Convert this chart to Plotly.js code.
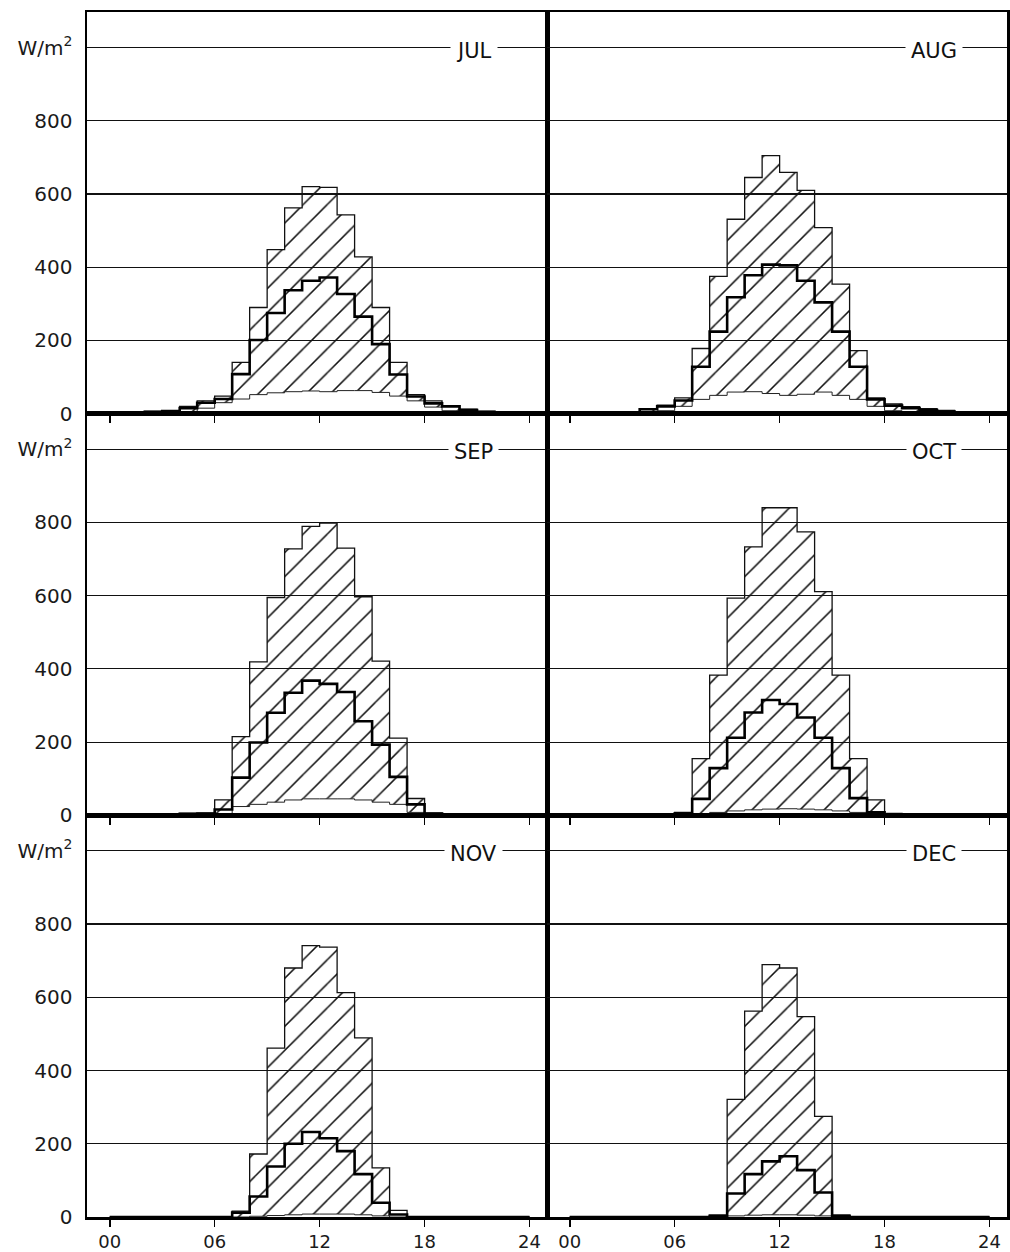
<!DOCTYPE html>
<html>
<head>
<meta charset="utf-8">
<script src="https://cdn.plot.ly/plotly-3.0.1.min.js"></script>
<style>
  html, body { margin: 0; padding: 0; background: #fff; }
  #chart { width: 1010px; height: 1252px; }
</style>
</head>
<body>
<div id="chart"></div>
<script>
// hourly bins (start hour of each 1-hour interval)
const hours = [0,1,2,3,4,5,6,7,8,9,10,11,12,13,14,15,16,17,18,19,20,21,22,23];
const months = ['JUL','AUG','SEP','OCT','NOV','DEC'];
const xTickVals = [0, 6, 12, 18, 24];
const xTickText = ['00', '06', '12', '18', '24'];
const yTickVals = [0, 200, 400, 600, 800, 1000];
const yTickText = ['0', '200', '400', '600', '800', 'W/m<sup>2</sup>'];

// W/m² : maximum, mean and minimum per hour
const julMax  = [0,0,6,8,20,35,48,140,290,448,562,620,618,543,428,290,140,52,35,22,12,6,0,0];
const julMean = [0,0,5,7,15,30,40,108,201,275,337,363,372,327,265,190,107,47,28,20,10,5,0,0];
const julMin  = [0,0,0,0,5,15,30,40,52,57,60,62,60,63,63,58,48,35,18,8,3,0,0,0];

const augMax  = [0,0,0,5,14,23,43,178,375,531,645,705,659,610,508,354,172,43,27,19,14,9,0,0];
const augMean = [0,0,0,4,12,20,36,128,224,318,378,407,405,363,304,224,128,39,22,15,10,6,0,0];
const augMin  = [0,0,0,0,3,8,20,39,50,59,60,55,50,53,59,50,39,20,8,3,0,0,0,0];

const sepMax  = [0,0,0,0,5,6,42,215,419,595,728,789,798,730,597,421,211,46,6,3,0,0,0,0];
const sepMean = [0,0,0,0,4,5,16,103,199,280,335,368,359,337,257,193,105,30,5,2,0,0,0,0];
const sepMin  = [0,0,0,0,0,0,5,24,30,36,42,45,45,45,42,36,30,8,0,0,0,0,0,0];

const octMax  = [0,0,0,0,0,0,8,155,383,593,733,840,840,774,611,383,155,42,5,2,0,0,0,0];
const octMean = [0,0,0,0,0,0,5,45,129,212,281,315,304,267,212,129,47,8,3,0,0,0,0,0];
const octMin  = [0,0,0,0,0,0,0,3,8,12,15,17,18,17,15,12,8,3,0,0,0,0,0,0];

const novMax  = [0,0,0,0,0,0,0,16,172,461,680,741,737,613,489,134,18,0,0,0,0,0,0,0];
const novMean = [0,0,0,0,0,0,0,12,56,138,200,232,215,180,117,39,7,0,0,0,0,0,0,0];
const novMin  = [0,0,0,0,0,0,0,0,2,4,6,8,8,8,6,3,0,0,0,0,0,0,0,0];

const decMax  = [0,0,0,0,0,0,0,0,5,321,562,689,680,547,275,5,0,0,0,0,0,0,0,0];
const decMean = [0,0,0,0,0,0,0,0,3,64,117,152,166,128,67,3,0,0,0,0,0,0,0,0];
const decMin  = [0,0,0,0,0,0,0,0,0,3,5,6,6,5,3,0,0,0,0,0,0,0,0,0];

const panels = [
  {name: months[0], max: julMax, mean: julMean, min: julMin},
  {name: months[1], max: augMax, mean: augMean, min: augMin},
  {name: months[2], max: sepMax, mean: sepMean, min: sepMin},
  {name: months[3], max: octMax, mean: octMean, min: octMin},
  {name: months[4], max: novMax, mean: novMean, min: novMin},
  {name: months[5], max: decMax, mean: decMean, min: decMin}
];

const edges = hours.concat([hours[hours.length - 1] + 1]);
function stepY(v) { return v.concat([v[v.length - 1]]); }

const FONT = 'DejaVu Sans, Liberation Sans, sans-serif';
const data = [];
const layout = {
  width: 1010, height: 1252,
  margin: {l: 87, r: 3, t: 12, b: 35},
  paper_bgcolor: '#ffffff', plot_bgcolor: 'rgba(0,0,0,0)',
  showlegend: false,
  font: {family: FONT, size: 18, color: '#1a1a1a'},
  annotations: []
};

panels.forEach((p, i) => {
  const r = Math.floor(i / 2), c = i % 2;
  const n = i + 1;
  const xa = 'x' + (n === 1 ? '' : n), ya = 'y' + (n === 1 ? '' : n);
  const xk = 'xaxis' + (n === 1 ? '' : n), yk = 'yaxis' + (n === 1 ? '' : n);

  data.push({
    type: 'scatter', mode: 'lines', x: edges, y: stepY(p.min),
    xaxis: xa, yaxis: ya, line: {shape: 'hv', color: '#222', width: 1},
    hoverinfo: 'skip'
  });
  data.push({
    type: 'scatter', mode: 'lines', x: edges, y: stepY(p.max),
    xaxis: xa, yaxis: ya, line: {shape: 'hv', color: '#111', width: 1.3},
    fill: 'tonexty', fillcolor: 'rgba(0,0,0,0)',
    fillpattern: {shape: '/', fgcolor: '#111', size: 17, solidity: 0.09},
    hoverinfo: 'skip'
  });
  data.push({
    type: 'scatter', mode: 'lines', x: edges, y: stepY(p.mean),
    xaxis: xa, yaxis: ya, line: {shape: 'hv', color: '#000', width: 2.6},
    hoverinfo: 'skip'
  });

  layout[xk] = {
    domain: c === 0 ? [0, 0.5] : [0.5, 1],
    anchor: ya, range: [-1.3, 25],
    tickmode: 'array', tickvals: xTickVals, ticktext: xTickText,
    showticklabels: r === 2, ticks: 'outside', ticklen: 7, tickwidth: 1.6, tickcolor: '#000',
    showline: true, linewidth: 2.5, linecolor: '#000', mirror: true,
    showgrid: false, zeroline: false,
    tickfont: {family: FONT, size: 18, color: '#1a1a1a'}
  };
  layout[yk] = {
    domain: r === 0 ? [2/3, 1] : (r === 1 ? [1/3, 2/3] : [0, 1/3]),
    anchor: xa, range: [0, 1097],
    tickmode: 'array', tickvals: yTickVals, ticktext: yTickText,
    showticklabels: c === 0, ticks: '', ticklabelstandoff: 8,
    showline: true, linewidth: 2.5, linecolor: '#000', mirror: true,
    showgrid: true, gridcolor: '#111', gridwidth: 1.2, zeroline: false,
    tickfont: {family: FONT, size: 20, color: '#1a1a1a'}
  };

  layout.annotations.push({
    xref: xa, yref: ya, x: 20.8, y: 1000, text: p.name, showarrow: false,
    bgcolor: '#ffffff', borderpad: 5, yshift: -3,
    font: {family: FONT, size: 21, color: '#111'}
  });
});

Plotly.newPlot('chart', data, layout, {staticPlot: true});
</script>
</body>
</html>
